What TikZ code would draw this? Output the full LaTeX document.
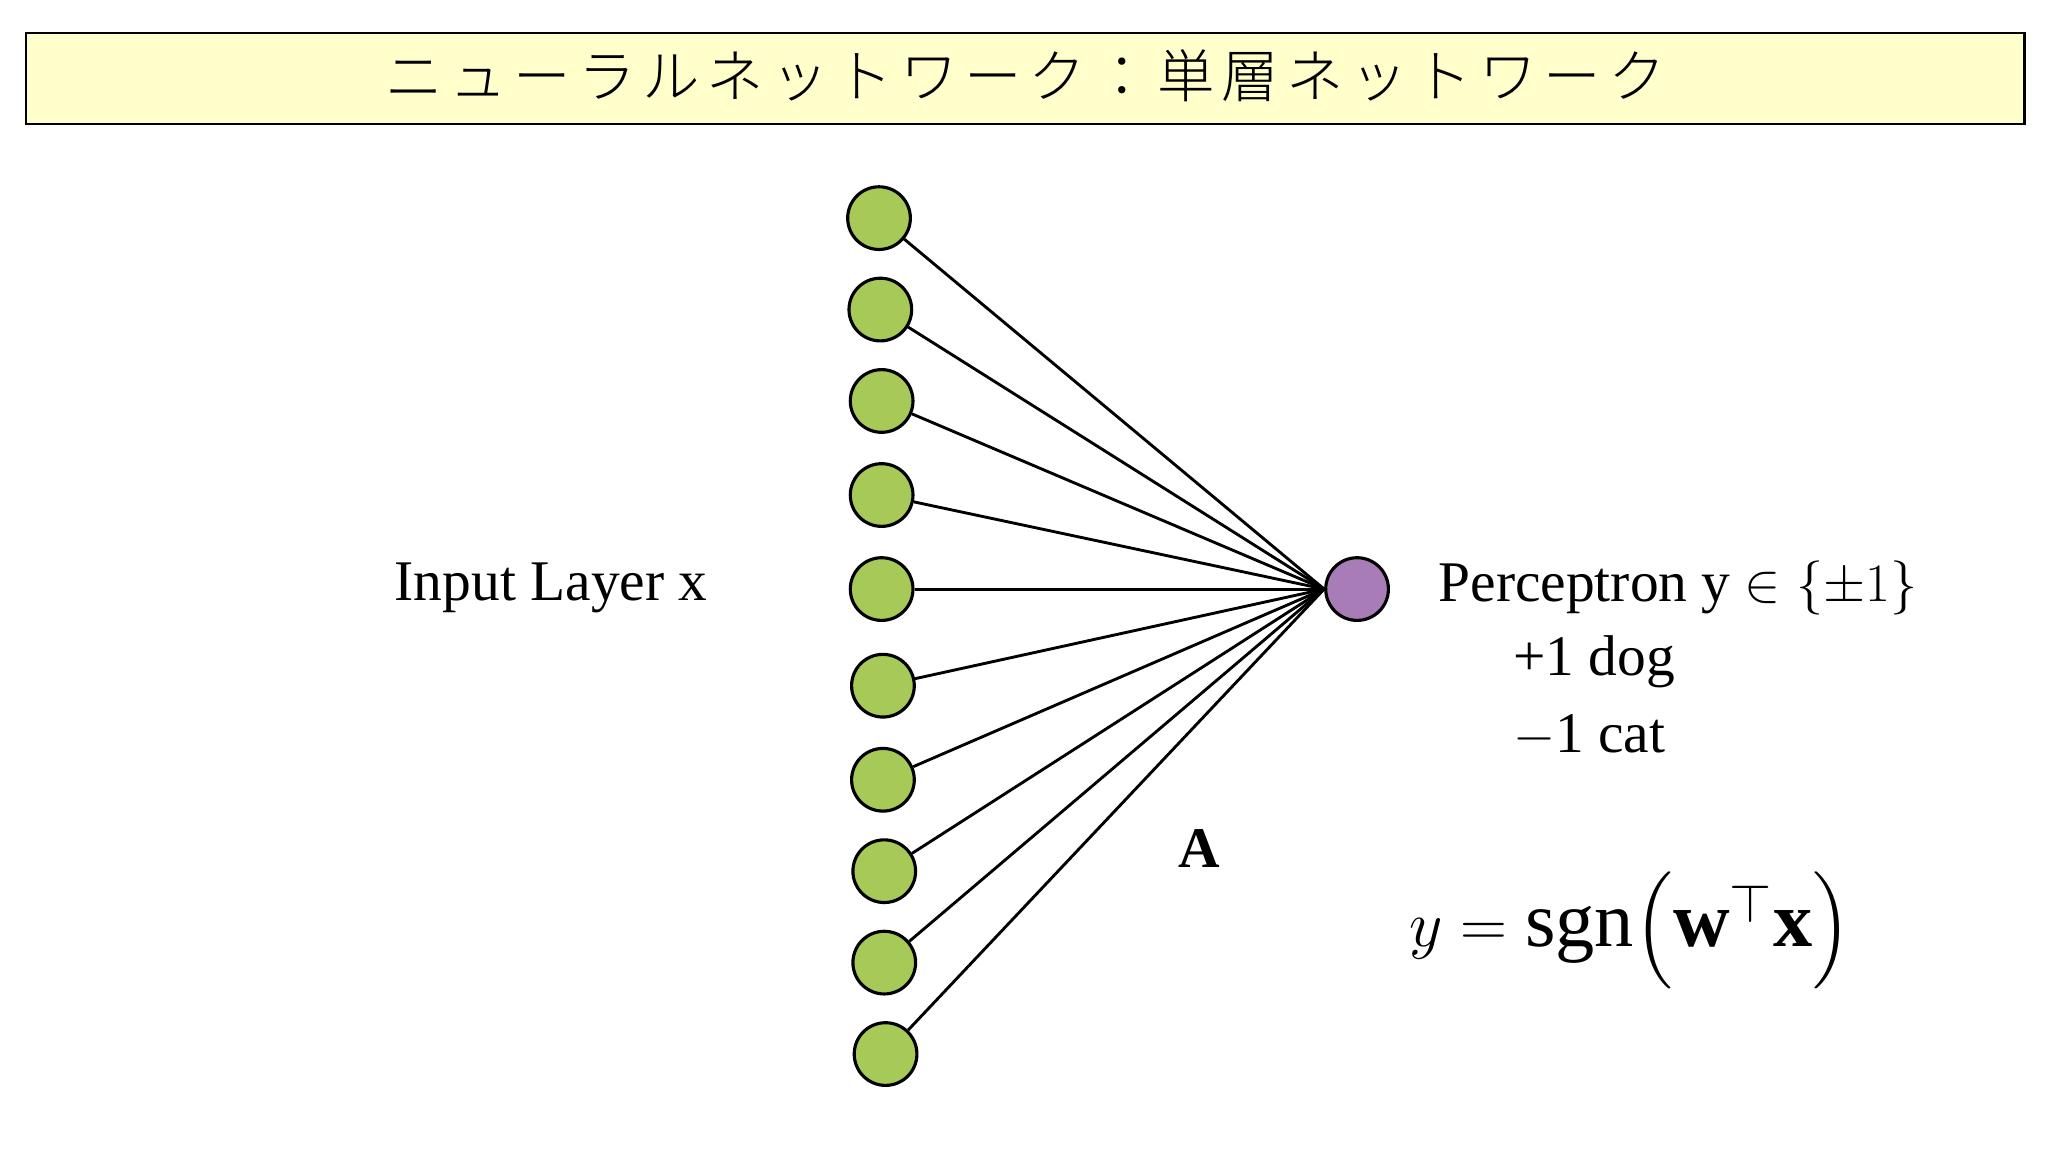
\documentclass[tikz,border=0pt]{standalone}
\usepackage{amsmath}
\usepackage{fontspec}
\setmainfont{Liberation Serif}
\newfontfamily\cjk[LetterSpace=12]{Noto Sans CJK JP Light}
\begin{document}
\begin{tikzpicture}[x=0.5pt,y=-0.5pt,
  inp/.style={circle,draw,line width=1.2pt,fill={rgb,255:red,166;green,201;blue,88},minimum size=24pt,inner sep=0pt},
  outp/.style={circle,draw,line width=1.2pt,fill={rgb,255:red,168;green,124;blue,182},minimum size=24pt,inner sep=0pt},
  edge/.style={line width=1.1pt},
  lbl/.style={font=\fontsize{22}{26}\selectfont,inner sep=0pt}]
\useasboundingbox[fill=white] (0,0) rectangle (1568,882);
\node[draw,line width=0.8pt,fill={rgb,255:red,255;green,255;blue,204},minimum width=765pt,minimum height=35pt,inner sep=0pt] (title) at (785,60) {};
\node[font=\cjk\fontsize{22}{26}\selectfont] at (785,58) {ニューラルネットワーク：単層ネットワーク};
\foreach \i/\x/\y in {1/673/167,2/674/237,3/675/307,4/675/379,5/675/451,6/676/525,7/676/597,8/677/667,9/677/737,10/678/807}
  \node[inp] (i\i) at (\x,\y) {};
\node[outp] (o) at (1039,451) {};
\foreach \i in {1,...,10} \draw[edge] (i\i) -- (o.west);
\node[lbl] (il) at (422,450) {Input Layer x};
\node[lbl,anchor=west] (p) at (1101,450) {Perceptron y $\in\{\pm1\}$};
\node[lbl,anchor=west] (d) at (1158,507) {+1 dog};
\node[lbl,anchor=west] (c) at (1158,563) {$-$1 cat};
\node[lbl,font=\bfseries\fontsize{22}{26}\selectfont] (a) at (918,650) {A};
\node[font=\fontsize{30}{34}\selectfont] (f) at (1248,712) {$y=\operatorname{sgn}\Bigl(\mathbf{w}^{\top}\mathbf{x}\Bigr)$};
\end{tikzpicture}
\end{document}
